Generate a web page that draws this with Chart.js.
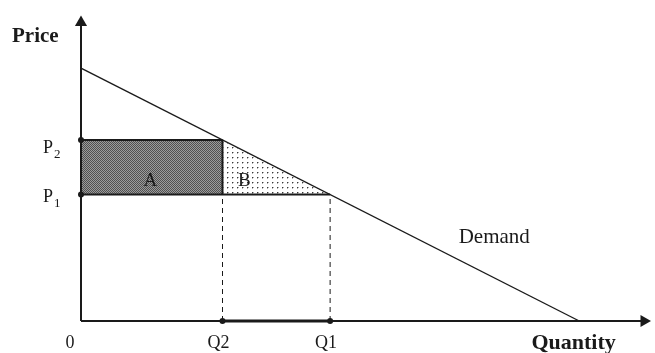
<!DOCTYPE html>
<html>
<head>
<meta charset="utf-8">
<script src="https://cdn.jsdelivr.net/npm/chart.js@4/dist/chart.umd.min.js"></script>
<style>
  html, body { margin: 0; padding: 0; background: #fff; }
  #wrap { width: 655px; height: 353px; position: relative; }
</style>
</head>
<body>
<div id="wrap"><canvas id="canvasOne"></canvas></div>
<script>
// demand curve (price falls as quantity rises)
var demandQ = [0, 10];
var demandP = [10, 0];
// the two price levels and the quantities they give
var P1 = 5.0, P2 = 7.16;
var Q1 = 5.0, Q2 = 2.84;
// where the axes end (arrow heads)
var axisEndQ = 11.3;
var axisEndP = 11.8;
// axis labels
var qLabels = ['0', 'Q2', 'Q1'];
var qValues = [0, Q2, Q1];

function makePattern(size, draw) {
    var c = document.createElement('canvas');
    c.width = size; c.height = size;
    var g = c.getContext('2d');
    draw(g);
    return g.createPattern(c, 'repeat');
}

// dense grey hatching for area A
var patA = makePattern(2, function(g) {
    g.fillStyle = '#9c9c9c'; g.fillRect(0, 0, 2, 2);
    g.fillStyle = '#505050'; g.fillRect(0, 0, 1, 1); g.fillRect(1, 1, 1, 1);
});
// sparse dots for area B
var patB = makePattern(5, function(g) {
    g.fillStyle = '#ffffff'; g.fillRect(0, 0, 5, 5);
    g.fillStyle = '#3a3a3a'; g.fillRect(2, 2, 1, 1);
    g.fillStyle = '#b0b0b0'; g.fillRect(3, 2, 1, 1); g.fillRect(2, 3, 1, 1);
});

function pts(xs, ys) {
    return xs.map(function(x, i) { return {x: x, y: ys[i]}; });
}

var black = '#1a1a1a';

var datasets = [
    // area A : rectangle between P1 and P2, 0..Q2
    { data: pts([0, Q2], [P2, P2]), fill: {target: {value: P1}}, backgroundColor: patA,
      borderWidth: 0, pointRadius: 0, order: 5 },
    // area B : triangle under demand between Q2 and Q1
    { data: pts([Q2, Q1], [P2, P1]), fill: {target: {value: P1}}, backgroundColor: patB,
      borderWidth: 0, pointRadius: 0, order: 5 },
    // demand
    { data: pts(demandQ, demandP), borderColor: black, borderWidth: 1.4, pointRadius: 0, fill: false },
    // P2 line and P1 line
    { data: pts([0, Q2], [P2, P2]), borderColor: black, borderWidth: 2, pointRadius: [3, 0],
      pointBackgroundColor: black, pointBorderWidth: 0, fill: false },
    { data: pts([0, Q1], [P1, P1]), borderColor: black, borderWidth: 2, pointRadius: [3, 0],
      pointBackgroundColor: black, pointBorderWidth: 0, fill: false },
    // vertical side of A
    { data: pts([Q2, Q2], [P1, P2]), borderColor: black, borderWidth: 2, pointRadius: 0, fill: false },
    // dashed drop lines
    { data: pts([Q2, Q2], [0, P1]), borderColor: black, borderWidth: 1, borderDash: [5, 4],
      pointRadius: 0, fill: false },
    { data: pts([Q1, Q1], [0, P1]), borderColor: black, borderWidth: 1, borderDash: [5, 4],
      pointRadius: 0, fill: false },
    // thick segment on quantity axis
    { data: pts([Q2, Q1], [0, 0]), borderColor: black, borderWidth: 3, pointRadius: 3,
      pointBackgroundColor: black, pointBorderWidth: 0, fill: false },
    // axes with arrow heads
    { data: pts([0, 0], [0, axisEndP]), borderColor: black, borderWidth: 2,
      pointRadius: [0, 7], pointStyle: 'triangle', pointRotation: 0,
      pointBackgroundColor: black, pointBorderWidth: 0, fill: false },
    { data: pts([0, axisEndQ], [0, 0]), borderColor: black, borderWidth: 2,
      pointRadius: [0, 7], pointStyle: 'triangle', pointRotation: 90,
      pointBackgroundColor: black, pointBorderWidth: 0, fill: false }
];

var labelPlugin = {
    id: 'labels',
    afterDatasetsDraw: function(chart) {
        var ctx = chart.ctx;
        var xs = chart.scales.x, ys = chart.scales.y;
        var x0 = xs.getPixelForValue(0), y0 = ys.getPixelForValue(0);
        ctx.save();
        ctx.fillStyle = '#1a1a1a';
        ctx.textBaseline = 'alphabetic';

        ctx.font = 'bold 21px "Liberation Serif"';
        ctx.textAlign = 'left';
        ctx.fillText('Price', x0 - 69, 42);
        ctx.font = 'bold 22px "Liberation Serif"';
        ctx.fillText('Quantity', xs.getPixelForValue(9.04), y0 + 28);

        ctx.font = '18px "Liberation Serif"';
        ctx.textAlign = 'center';
        qLabels.forEach(function(t, i) {
            var dx = i == 0 ? -11 : -4;
            ctx.fillText(t, xs.getPixelForValue(qValues[i]) + dx, y0 + 27);
        });

        // P labels with subscripts
        [[P2, '2', 13], [P1, '1', 7]].forEach(function(p) {
            var py = ys.getPixelForValue(p[0]) + p[2];
            ctx.font = '18px "Liberation Serif"';
            ctx.textAlign = 'left';
            ctx.fillText('P', x0 - 38, py);
            ctx.font = '13px "Liberation Serif"';
            ctx.fillText(p[1], x0 - 27, py + 5);
        });

        ctx.font = '19px "Liberation Serif"';
        ctx.textAlign = 'center';
        ctx.textBaseline = 'middle';
        var midY = ys.getPixelForValue((P1 + P2) / 2) + 14;
        ctx.fillText('A', xs.getPixelForValue(1.39), midY);
        ctx.fillText('B', xs.getPixelForValue(3.28), midY);

        ctx.font = '21px "Liberation Serif"';
        ctx.textAlign = 'left';
        ctx.textBaseline = 'alphabetic';
        ctx.fillText('Demand', xs.getPixelForValue(7.58), ys.getPixelForValue(3.1));
        ctx.restore();
    }
};

var config = {
    type: 'line',
    data: { datasets: datasets },
    options: {
        responsive: true,
        maintainAspectRatio: false,
        animation: false,
        layout: { padding: { left: 81, right: 2, top: 15, bottom: 32 } },
        scales: {
            x: { type: 'linear', min: 0, max: 11.38, display: false },
            y: { type: 'linear', min: 0, max: 12.1, display: false }
        },
        elements: { line: { tension: 0 } },
        datasets: { line: { clip: false } },
        plugins: { legend: { display: false }, tooltip: { enabled: false } }
    },
    plugins: [labelPlugin]
};

var chart = new Chart(document.getElementById('canvasOne').getContext('2d'), config);
</script>
</body>
</html>
